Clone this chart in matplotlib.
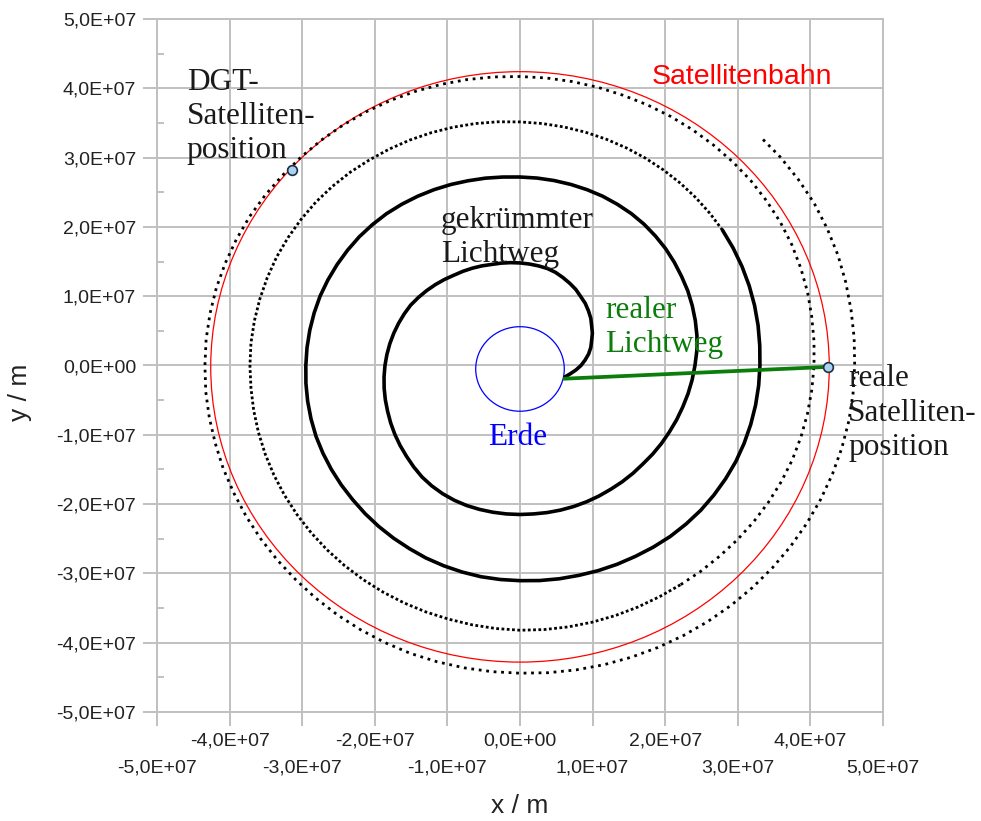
import numpy as np
import matplotlib.pyplot as plt
from matplotlib.patches import Circle
from matplotlib.ticker import MultipleLocator, FixedLocator, FuncFormatter

plt.rcParams['font.family'] = ['Liberation Sans', 'DejaVu Sans']

E7 = 1e7  # lengths below are in units of 1e7 m

# curved light path in the rotating frame: polar angle (deg, counted on
# through every turn, 5 deg apart) and distance from the earth centre
spiral_deg = list(range(-15, 1486, 5))
spiral_r = [
    0.64, 0.70, 0.77, 0.84, 0.90, 0.96, 1.01, 1.05, 1.10, 1.14,
    1.19, 1.23, 1.27, 1.30, 1.34, 1.37, 1.40, 1.43, 1.45, 1.46,
    1.47, 1.48, 1.49, 1.50, 1.51, 1.53, 1.55, 1.57, 1.59, 1.62,
    1.65, 1.68, 1.71, 1.74, 1.76, 1.78, 1.80, 1.82, 1.84, 1.86,
    1.88, 1.90, 1.92, 1.94, 1.965, 1.99, 2.015, 2.04, 2.07, 2.10,
    2.12, 2.135, 2.145, 2.15, 2.15, 2.15, 2.15, 2.15, 2.15, 2.155,
    2.16, 2.165, 2.17, 2.175, 2.18, 2.19, 2.20, 2.21, 2.23, 2.25,
    2.27, 2.295, 2.32, 2.35, 2.38, 2.41, 2.445, 2.475, 2.50, 2.525,
    2.55, 2.57, 2.595, 2.62, 2.64, 2.66, 2.675, 2.685, 2.695, 2.70,
    2.705, 2.71, 2.715, 2.72, 2.73, 2.745, 2.76, 2.78, 2.80, 2.82,
    2.84, 2.86, 2.875, 2.89, 2.90, 2.91, 2.92, 2.93, 2.935, 2.94,
    2.945, 2.95, 2.96, 2.97, 2.98, 2.99, 2.995, 3.00, 3.005, 3.01,
    3.02, 3.03, 3.04, 3.05, 3.065, 3.075, 3.085, 3.095, 3.10, 3.105,
    3.115, 3.125, 3.135, 3.15, 3.165, 3.18, 3.20, 3.22, 3.235, 3.25,
    3.26, 3.27, 3.28, 3.285, 3.29, 3.295, 3.30, 3.305, 3.315, 3.33,
    3.345, 3.36, 3.375, 3.39, 3.405, 3.415, 3.425, 3.435, 3.445, 3.455,
    3.465, 3.475, 3.485, 3.495, 3.505, 3.515, 3.53, 3.545, 3.56, 3.575,
    3.59, 3.605, 3.62, 3.64, 3.655, 3.67, 3.68, 3.69, 3.70, 3.705,
    3.71, 3.715, 3.72, 3.72, 3.72, 3.725, 3.73, 3.735, 3.74, 3.745,
    3.75, 3.755, 3.76, 3.765, 3.77, 3.775, 3.78, 3.785, 3.79, 3.80,
    3.81, 3.82, 3.825, 3.83, 3.835, 3.84, 3.845, 3.85, 3.86, 3.875,
    3.89, 3.91, 3.93, 3.95, 3.97, 3.99, 4.005, 4.02, 4.035, 4.05,
    4.065, 4.08, 4.10, 4.115, 4.13, 4.14, 4.145, 4.15, 4.15, 4.15,
    4.15, 4.15, 4.15, 4.15, 4.155, 4.16, 4.165, 4.17, 4.18, 4.19,
    4.20, 4.21, 4.22, 4.23, 4.24, 4.25, 4.26, 4.27, 4.285, 4.30,
    4.31, 4.32, 4.33, 4.335, 4.34, 4.34, 4.345, 4.345, 4.345, 4.35,
    4.35, 4.355, 4.36, 4.365, 4.37, 4.38, 4.39, 4.40, 4.41, 4.42,
    4.425, 4.43, 4.435, 4.44, 4.45, 4.46, 4.47, 4.48, 4.49, 4.50,
    4.51, 4.52, 4.53, 4.54, 4.55, 4.56, 4.57, 4.58, 4.59, 4.60,
    4.605, 4.61, 4.62, 4.63, 4.645, 4.66, 4.67, 4.68, 4.68, 4.68,
    4.675]

orbit_center = (0.0, -0.02)
orbit_radius = 4.26
earth_center = (0.0, -0.05)
earth_radius = 0.61

real_light_x = [0.62, 4.24]
real_light_y = [-0.19, -0.02]
dgt_pos = (-3.14, 2.82)
real_pos = (4.24, -0.02)

theta = np.radians(spiral_deg)
sx = np.array(spiral_r) * np.cos(theta) * E7
sy = np.array(spiral_r) * np.sin(theta) * E7

fig = plt.figure(figsize=(9.81, 8.21), dpi=100)
ax = fig.add_axes([157 / 981, 1 - 712 / 821, 726 / 981, 693 / 821])

grid_c = '#c0c0c0'
txt_c = '#222222'
ax.set_xlim(-5 * E7, 5 * E7)
ax.set_ylim(-5 * E7, 5 * E7)

# x labels alternate between two rows: even positions as major, odd as minor ticks
ax.xaxis.set_major_locator(MultipleLocator(2 * E7))
ax.xaxis.set_minor_locator(FixedLocator([k * E7 for k in (-5, -3, -1, 1, 3, 5)]))
ax.yaxis.set_major_locator(MultipleLocator(E7))
ax.yaxis.set_minor_locator(MultipleLocator(E7 / 2))

ax.grid(True, axis='x', which='both', color=grid_c, lw=1.4)
ax.grid(True, axis='y', which='major', color=grid_c, lw=1.4)
ax.set_axisbelow(True)
for s in ax.spines.values():
    s.set_color(grid_c)
    s.set_linewidth(1.4)

ax.tick_params(which='major', length=10, width=1.4, color=grid_c, pad=5,
               labelsize=14, labelcolor=txt_c)
ax.tick_params(axis='x', which='minor', length=10, width=1.4, color=grid_c, pad=24.5,
               labelsize=14, labelcolor=txt_c)
ax.tick_params(axis='y', which='minor', direction='in', length=5, width=1.4, color=grid_c)


def fmt(v, pos):
    if abs(v) < 1:
        return '0,0E+00'
    return f'{v / E7:.1f}E+07'.replace('.', ',')


ax.xaxis.set_major_formatter(FuncFormatter(fmt))
ax.xaxis.set_minor_formatter(FuncFormatter(fmt))
ax.yaxis.set_major_formatter(FuncFormatter(fmt))

ax.set_xlabel('x / m', fontsize=19, color=txt_c)
ax.set_ylabel('y / m', fontsize=19, color=txt_c)
ax.xaxis.set_label_coords(0.5, -0.118)
ax.yaxis.set_label_coords(-0.172, 0.462)

# satellite orbit and earth
ax.add_patch(Circle((orbit_center[0] * E7, orbit_center[1] * E7), orbit_radius * E7,
                    fill=False, ec='#ff0000', lw=0.9, zorder=2))
ax.add_patch(Circle((earth_center[0] * E7, earth_center[1] * E7), earth_radius * E7,
                    fill=False, ec='#0000ff', lw=0.9, zorder=2))

# spiral: inner turns solid, outer turns dotted and sparser
k1, k2 = 155, 209
ax.plot(sx[:k1], sy[:k1], color='black', lw=2.6, solid_joinstyle='round',
        solid_capstyle='round', zorder=3)
ax.plot(sx[k1 - 1:k2], sy[k1 - 1:k2], color='black', lw=2.0, ls=(0, (1, 0.9)), zorder=3)
ax.plot(sx[k2 - 1:], sy[k2 - 1:], color='black', lw=2.0, ls=(0, (1, 1.7)), zorder=3)

ax.plot(np.array(real_light_x) * E7, np.array(real_light_y) * E7,
        color='#0a7d0a', lw=2.7, zorder=4)

for p in (dgt_pos, real_pos):
    ax.plot(p[0] * E7, p[1] * E7, 'o', ms=7, mfc='#a9d2f0', mec='#1c2f44', mew=1.2, zorder=5)

serif = 'Liberation Serif'
tsize = 22.5
ls = 1.24
# multi-line labels are anchored at the baseline of their last line
ax.text(-4.59 * E7, 2.99 * E7, 'DGT-\nSatelliten-\nposition', family=serif, fontsize=tsize,
        color='#1a1a1a', va='baseline', linespacing=ls)
ax.text(1.82 * E7, 4.06 * E7, 'Satellitenbahn', fontsize=20.5, color='#ff0000', va='baseline')
ax.text(-1.09 * E7, 1.49 * E7, 'gekrümmter\nLichtweg', family=serif, fontsize=tsize,
        color='#1a1a1a', va='baseline', linespacing=ls)
ax.text(1.17 * E7, 0.19 * E7, 'realer\nLichtweg', family=serif, fontsize=tsize,
        color='#0a7d0a', va='baseline', linespacing=ls)
ax.text(-0.44 * E7, -1.15 * E7, 'Erde', family=serif, fontsize=tsize,
        color='#0000ff', va='baseline')
ax.text(4.52 * E7, -1.29 * E7, 'reale\nSatelliten-\nposition', family=serif, fontsize=tsize,
        color='#1a1a1a', va='baseline', linespacing=ls, clip_on=False)

fig.savefig('out.png', dpi=100)
